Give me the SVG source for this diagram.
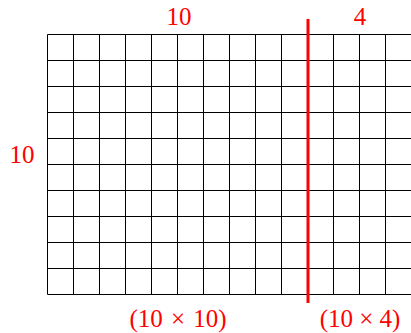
<svg xmlns="http://www.w3.org/2000/svg" width="411" height="333" viewBox="0 0 411 333">
<style>
.g{stroke:#000;stroke-width:1;fill:none}
.t{font-family:"Liberation Serif",serif;font-size:25px;fill:#ff0000;text-anchor:middle}
</style>
<rect width="411" height="333" fill="#fff"/>
<g id="grid" class="g">
<path d="M47.5 34.5H411.5M47.5 60.5H411.5M47.5 86.5H411.5M47.5 112.5H411.5M47.5 138.5H411.5M47.5 164.5H411.5M47.5 190.5H411.5M47.5 216.5H411.5M47.5 242.5H411.5M47.5 268.5H411.5M47.5 294.5H411.5"/>
<path d="M47.5 34.5V294.5M73.5 34.5V294.5M99.5 34.5V294.5M125.5 34.5V294.5M151.5 34.5V294.5M177.5 34.5V294.5M203.5 34.5V294.5M229.5 34.5V294.5M255.5 34.5V294.5M281.5 34.5V294.5M307.5 34.5V294.5M333.5 34.5V294.5M359.5 34.5V294.5M385.5 34.5V294.5M411.5 34.5V294.5"/>
</g>
<g id="divider">
<line x1="308" y1="19" x2="308" y2="303" stroke="#ff0000" stroke-width="3"/>
</g>
<g id="labels">
<text class="t" x="179" y="25">10</text>
<text class="t" x="360" y="25">4</text>
<text class="t" x="22" y="163">10</text>
<text class="t" x="178" y="327" word-spacing="2">(10 × 10)</text>
<text class="t" x="360" y="327">(10 × 4)</text>
</g>
</svg>
